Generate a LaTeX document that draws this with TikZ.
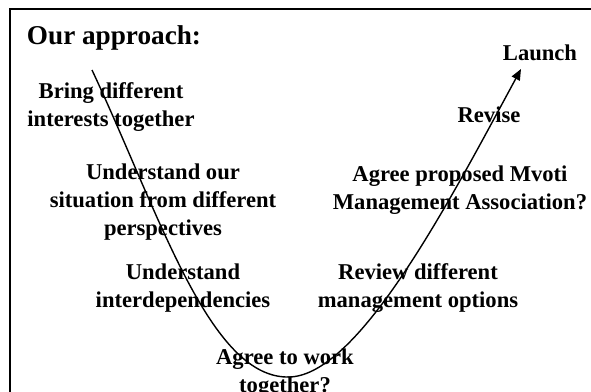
\documentclass[tikz,border=0pt]{standalone}
\usepackage{fontspec}
\setmainfont{Liberation Serif}
\usetikzlibrary{arrows.meta}

\begin{document}
\begin{tikzpicture}[
  x=0.5pt,y=-0.5pt,
  >={Triangle[length=5.5pt,width=4.5pt]},
  lbl/.style={align=center,font=\fontsize{11.3}{14}\selectfont\bfseries,inner sep=0pt},
  ttl/.style={font=\fontsize{13.6}{16}\selectfont\bfseries,inner sep=0pt},
  u/.style={->,line width=0.7pt}
]
\useasboundingbox (0,0) rectangle (591,392);
\draw[line width=1pt] (10,420) -- (10,9) -- (620,9);

\node[ttl] (title) at (114,38) {Our approach:};
\node[lbl] (launch) at (540,53) {Launch};
\node[lbl] (bring) at (111,107) {Bring different\\interests together};
\node[lbl] (situation) at (163,202) {Understand our\\situation from different\\perspectives};
\node[lbl] (interdep) at (183,288) {Understand\\interdependencies};
\node[lbl] (work) at (285,373) {Agree to work\\together?};
\node[lbl] (revise) at (489,115) {Revise};
\node[lbl] (mvoti) at (460,190) {Agree proposed Mvoti\\Management Association?};
\node[lbl] (options) at (418,288) {Review different\\management options};

\coordinate (start) at (92,70);
\coordinate (bottom) at (290,377);
\coordinate (tip) at (521,69);

\draw[u] (start) .. controls (160,215) and (210,380) .. (bottom)
  .. controls (360,374) and (450,200) .. (tip);
\end{tikzpicture}
\end{document}
